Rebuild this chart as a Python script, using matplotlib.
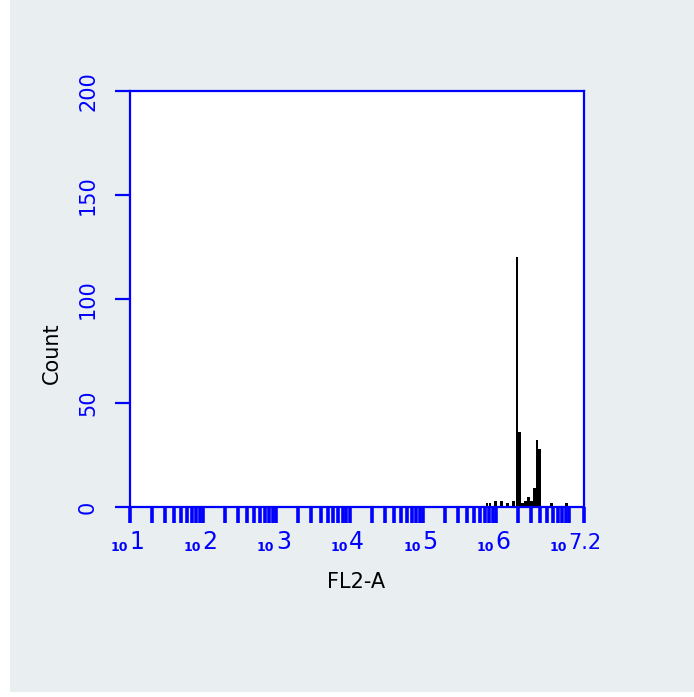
import numpy as np
import matplotlib
matplotlib.use('Agg')
import matplotlib.pyplot as plt
from matplotlib.patches import Rectangle
from matplotlib.ticker import LogLocator, NullFormatter, FixedLocator

# histogram bins: left edge (log10 of FL2-A) and count
bin_left_log = [5.858, 5.899, 5.975, 6.053, 6.135, 6.221, 6.267, 6.303,
                6.340, 6.385, 6.422, 6.467, 6.504, 6.540, 6.576, 6.740, 6.941]
bin_counts = [2, 2, 3, 3, 2, 3, 120, 36, 2, 3, 5, 3, 9, 32, 28, 2, 2]
bin_width_log = 0.0365

y_ticks = [0, 50, 100, 150, 200]
x_decades = [1, 2, 3, 4, 5, 6, 7]
x_label_exps = ['1', '2', '3', '4', '5', '6', '7.2']
x_max_exp = 7.2

blue = '#0000ff'
bg = '#e9eff1'

fig = plt.figure(figsize=(6.94, 6.97), dpi=100, facecolor=bg)
W, H = 694, 697
# white strips at left and bottom edge
fig.patches.append(Rectangle((0, 0), 10 / W, 1, transform=fig.transFigure,
                             facecolor='white', edgecolor='none', zorder=-1))
fig.patches.append(Rectangle((0, 0), 1, 5 / H, transform=fig.transFigure,
                             facecolor='white', edgecolor='none', zorder=-1))

ax = fig.add_axes([130 / W, 1 - 507 / H, 454 / W, 416 / H])
ax.set_facecolor('white')

lefts = 10 ** np.array(bin_left_log)
rights = 10 ** (np.array(bin_left_log) + bin_width_log)
ax.bar(lefts, bin_counts, width=rights - lefts, align='edge',
       color='black', edgecolor='none')

ax.set_xscale('log')
ax.set_xlim(10 ** x_decades[0], 10 ** x_max_exp)
ax.set_ylim(0, 200)

for s in ax.spines.values():
    s.set_color(blue)
    s.set_linewidth(1.6)

# x ticks: decades + 2..9 subdivisions, all the same length, plus the end tick
major = [10.0 ** d for d in x_decades] + [10 ** x_max_exp]
ax.xaxis.set_major_locator(FixedLocator(major))
ax.xaxis.set_minor_locator(LogLocator(base=10, subs=np.arange(2, 10), numticks=50))
ax.xaxis.set_major_formatter(NullFormatter())
ax.xaxis.set_minor_formatter(NullFormatter())
ax.tick_params(axis='x', which='both', direction='out', length=11.5,
               width=2.6, color=blue)

ax.set_yticks(y_ticks)
ax.set_yticklabels([str(v) for v in y_ticks], rotation=90, va='center',
                   color=blue, fontsize=15)
ax.tick_params(axis='y', direction='out', length=11, width=1.6, color=blue, pad=12)

# x tick labels drawn as small "10" + large exponent
label_pos = [10.0 ** d for d in x_decades[:-1]] + [10 ** x_max_exp]
for i, (xv, exp) in enumerate(zip(label_pos, x_label_exps)):
    last = i == len(label_pos) - 1
    shift = -11 if last else 0
    ax.annotate('10', xy=(xv, 0), xycoords=('data', 'axes fraction'),
                xytext=(shift - 1.5, -32), textcoords='offset points',
                ha='right', va='baseline', color=blue, fontsize=9,
                fontweight='bold')
    ax.annotate(exp, xy=(xv, 0), xycoords=('data', 'axes fraction'),
                xytext=(shift - 0.5, -30.5), textcoords='offset points',
                ha='left', va='baseline', color=blue,
                fontsize=15 if last else 17)

fig.text(52 / W, 1 - 353 / H, 'Count', rotation=90, ha='center', va='center',
         fontsize=15, color='black')
fig.text(356 / W, 1 - 582 / H, 'FL2-A', ha='center', va='center',
         fontsize=15, color='black')

fig.savefig('out.png', dpi=100, facecolor=bg)
